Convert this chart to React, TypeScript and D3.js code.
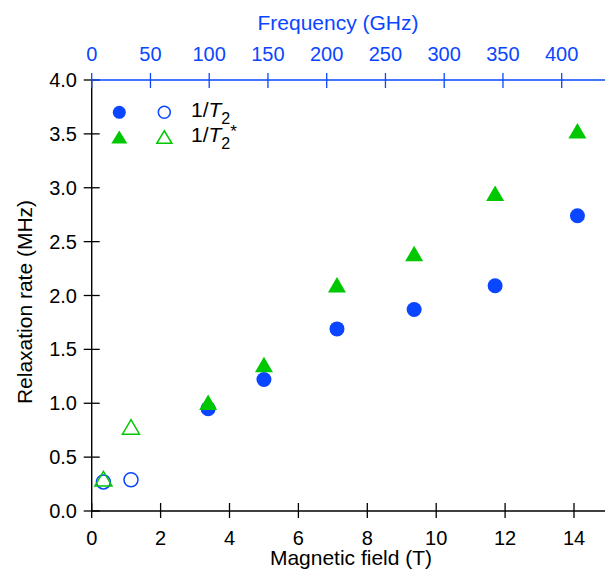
import React from 'react';
import * as d3 from 'd3';

// values
const fieldFilled = [3.38, 5.0, 7.12, 9.36, 11.71, 14.1];
const t2Filled = [0.95, 1.22, 1.69, 1.87, 2.09, 2.74];
const t2StarFilled = [1.01, 1.36, 2.1, 2.39, 2.95, 3.53];
const fieldOpen = [0.34, 1.14];
const t2Open = [0.27, 0.29];
const t2StarOpen = [0.3, 0.78];

const fieldTicks = [0, 2, 4, 6, 8, 10, 12, 14];
const freqTicks = [0, 50, 100, 150, 200, 250, 300, 350, 400];
const rateTicks = [0, 0.5, 1, 1.5, 2, 2.5, 3, 3.5, 4];

const W = 605;
const H = 569;
const left = 91.7;
const right = 605;
const top = 80;
const bottom = 511;

const BLUE = '#0a46ff';
const GREEN = '#00c800';
const FONT = '"Liberation Sans", Arial, sans-serif';
const TICK_FS = 20;
const LABEL_FS = 21;

const x = d3.scaleLinear().domain([0, 14]).range([left, left + 14 * 34.45]);
const xTop = d3.scaleLinear().domain([0, 400]).range([left, 561.7]);
const y = d3.scaleLinear().domain([0, 4]).range([bottom, top]);

const tri = (cx: number, cy: number, w = 18, h = 15.5) =>
  `M${cx},${cy - h / 2}L${cx + w / 2},${cy + h / 2}L${cx - w / 2},${cy + h / 2}Z`;

const App = () => {
  return (
    <svg width={W} height={H} style={{ position: 'absolute', left: 0, top: 0 }} fontFamily={FONT}>
      {/* left axis */}
      <line x1={left} x2={left} y1={top} y2={bottom} stroke="#000" strokeWidth={1.4} />
      {rateTicks.map((t) => (
        <g key={'y' + t}>
          <line x1={left - 8} x2={left + 8} y1={y(t)} y2={y(t)} stroke="#000" strokeWidth={1.3} />
          <text x={77} y={y(t) + 7} textAnchor="end" fontSize={TICK_FS}>
            {d3.format('.1f')(t)}
          </text>
        </g>
      ))}
      {/* bottom axis */}
      <line x1={left} x2={right} y1={bottom} y2={bottom} stroke="#000" strokeWidth={1.4} />
      {fieldTicks.map((t) => (
        <g key={'x' + t}>
          <line x1={x(t)} x2={x(t)} y1={bottom - 8} y2={bottom + 7} stroke="#000" strokeWidth={1.3} />
          <text x={x(t)} y={545} textAnchor="middle" fontSize={TICK_FS}>
            {t}
          </text>
        </g>
      ))}
      <text x={351} y={565} textAnchor="middle" fontSize={LABEL_FS}>
        Magnetic field (T)
      </text>
      <text transform={`translate(32,302) rotate(-90)`} textAnchor="middle" fontSize={LABEL_FS}>
        Relaxation rate (MHz)
      </text>
      {/* top axis */}
      <line x1={left} x2={right} y1={top} y2={top} stroke={BLUE} strokeWidth={1.4} />
      {freqTicks.map((t) => (
        <g key={'f' + t}>
          <line x1={xTop(t)} x2={xTop(t)} y1={top - 7} y2={top + 8} stroke={BLUE} strokeWidth={1.3} />
          <text x={xTop(t)} y={61} textAnchor="middle" fontSize={TICK_FS} fill={BLUE}>
            {t}
          </text>
        </g>
      ))}
      <text x={338} y={30} textAnchor="middle" fontSize={LABEL_FS} fill={BLUE}>
        Frequency (GHz)
      </text>
      {/* data */}
      {fieldFilled.map((b, i) => (
        <circle key={'c' + i} cx={x(b)} cy={y(t2Filled[i])} r={7.5} fill={BLUE} />
      ))}
      {fieldFilled.map((b, i) => (
        <path key={'t' + i} d={tri(x(b), y(t2StarFilled[i]))} fill={GREEN} />
      ))}
      {fieldOpen.map((b, i) => (
        <circle key={'oc' + i} cx={x(b)} cy={y(t2Open[i])} r={7} fill="none" stroke={BLUE} strokeWidth={1.5} />
      ))}
      {fieldOpen.map((b, i) => (
        <path key={'ot' + i} d={tri(x(b), y(t2StarOpen[i]), 17, 14.5)} fill="none" stroke={GREEN} strokeWidth={1.5} />
      ))}
      {/* legend */}
      <circle cx={119.3} cy={112.3} r={6.5} fill={BLUE} />
      <circle cx={164.3} cy={112.3} r={6} fill="none" stroke={BLUE} strokeWidth={1.5} />
      <path d={tri(119.3, 137, 16, 13)} fill={GREEN} />
      <path d={tri(164.3, 137, 15, 12.5)} fill="none" stroke={GREEN} strokeWidth={1.5} />
      <text x={191} y={117} fontSize={LABEL_FS}>
        1/<tspan fontStyle="italic">T</tspan>
        <tspan fontSize={16} dy={7}>2</tspan>
      </text>
      <text x={191} y={142} fontSize={LABEL_FS}>
        1/<tspan fontStyle="italic">T</tspan>
        <tspan fontSize={16} dy={7}>2</tspan>
        <tspan fontSize={17} dy={-12}>*</tspan>
      </text>
    </svg>
  );
};

export default App;
